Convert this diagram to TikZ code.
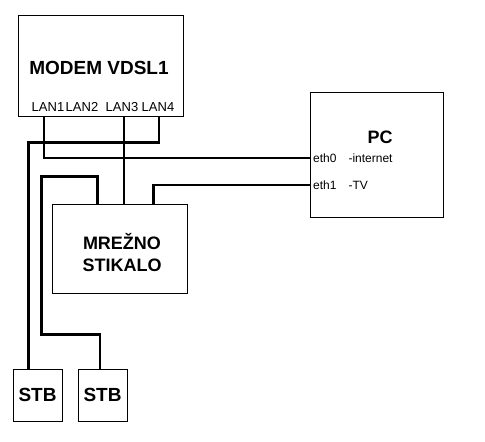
\documentclass[tikz,border=0pt]{standalone}
\usepackage{fontspec}
\setmainfont{Liberation Sans}

\begin{document}
\begin{tikzpicture}[x=1pt,y=-1pt,
  box/.style={draw,line width=1pt,inner sep=0pt},
  bigname/.style={font=\fontsize{19}{22}\selectfont\bfseries,align=center,inner sep=0pt},
  portname/.style={font=\fontsize{13}{15}\selectfont,inner sep=0pt},
  ethname/.style={font=\fontsize{12}{14}\selectfont,inner sep=0pt,anchor=west},
  wire/.style={line width=2.2pt}]
 \useasboundingbox (0,0) rectangle (485,442);
 % boxes
 \node[box,minimum width=165pt,minimum height=101pt] (modem) at (100.5,65.5) {};
 \node[box,minimum width=135pt,minimum height=89pt] (switch) at (119.5,248.5) {};
 \node[box,minimum width=133pt,minimum height=125pt] (pc) at (376.5,154.5) {};
 \node[box,bigname,minimum width=49pt,minimum height=52pt] (stb1) at (37.5,395) {STB};
 \node[box,bigname,minimum width=49pt,minimum height=52pt] (stb2) at (102.5,395) {STB};
 % texts
 \node[bigname] (modemname) at (99,68) {MODEM VDSL1};
 \node[bigname,font=\fontsize{18}{22}\selectfont\bfseries] (switchname) at (122,253) {MREŽNO\\STIKALO};
 \node[bigname,font=\fontsize{18}{22}\selectfont\bfseries] (pcname) at (380,137) {PC};
 \node[portname] (lan1) at (48,107) {LAN1};
 \node[portname] (lan2) at (82,107) {LAN2};
 \node[portname] (lan3) at (122,107) {LAN3};
 \node[portname] (lan4) at (158,107) {LAN4};
 \node[ethname] (eth0) at (313,158) {eth0\quad-internet};
 \node[ethname] (eth1) at (313,185) {eth1\quad-TV};
 % wires
 \draw[wire] ([xshift=-4pt]modem.south -| lan1) |- (pc.west |- eth0);
 \draw[wire] ([xshift=2pt]modem.south -| lan3) -- ([xshift=2pt]switch.north -| lan3);
 \draw[wire] ([xshift=1pt]modem.south -| lan4) -- ++(0,26) -| ([xshift=16pt]stb1.north west);
 \draw[wire] ([xshift=-22pt]switch.north) -- ++(0,-27) -- ++(-56,0) -- ++(0,158)
   -| ([xshift=-2.5pt]stb2.north);
 \draw[wire] ([xshift=34pt]switch.north) |- (pc.west |- eth1);
\end{tikzpicture}
\end{document}
